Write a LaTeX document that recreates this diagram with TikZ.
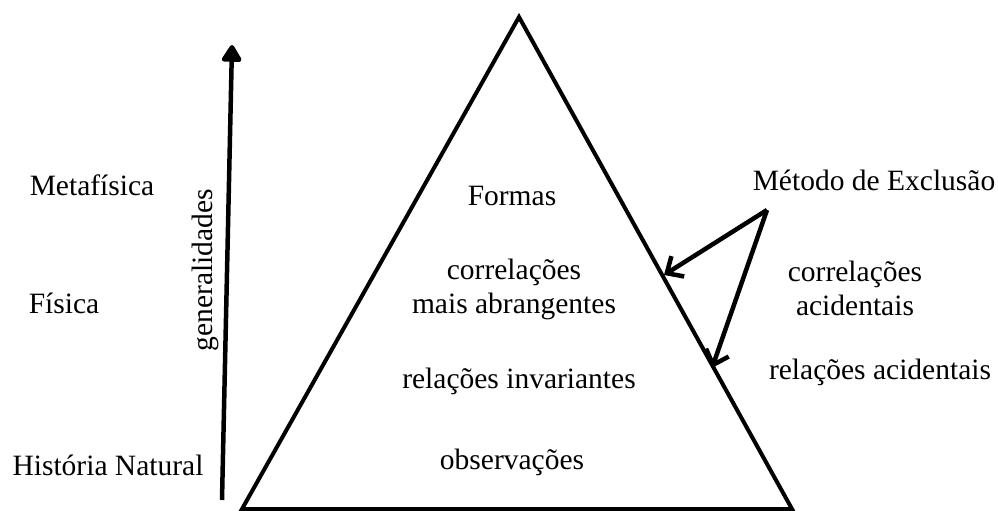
\documentclass[tikz,border=0pt]{standalone}
\usepackage{fontspec}
\setmainfont{Liberation Serif}
\usetikzlibrary{arrows.meta}
\tikzset{
  lbl/.style={font=\fontsize{29.5}{34}\selectfont, inner sep=0pt, align=center},
  side/.style={line width=4pt, line join=miter},
  gen/.style={line width=4.5pt, -{Triangle[length=19pt,width=22pt,round]}},
  excl/.style={line width=4.5pt, -{Straight Barb[length=13pt,width=24pt,line width=4.5pt]}}
}
\begin{document}
\begin{tikzpicture}[x=1pt,y=-1pt]
\useasboundingbox (0,0) rectangle (998,511);
% triangle
\coordinate (apex) at (519,17);
\coordinate (bl) at (242,509);
\coordinate (br) at (792,509);
\draw[side] (bl) -- (apex) -- (br) -- cycle;
% generalidades arrow
\coordinate (gbot) at (222,500);
\coordinate (gtop) at (232,45);
\draw[gen] (gbot) -- (gtop);
\node[lbl, rotate=90] (gen) at (205,270) {generalidades};
% left labels
\node[lbl] (meta) at (92,185) {Metafísica};
\node[lbl] (fis) at (64,303) {Física};
\node[lbl] (hist) at (108,465) {História Natural};
% inner labels
\node[lbl] (formas) at (512,196) {Formas};
\node[lbl] (corr) at (514,289) {correlações\\mais abrangentes};
\node[lbl] (rel) at (519,381) {relações invariantes};
\node[lbl] (obs) at (512,462) {observações};
% right labels
\node[lbl] (metodo) at (874,180) {Método de Exclusão};
\node[lbl] (corracc) at (855,288) {correlações\\acidentais};
\node[lbl] (relacc) at (880,372) {relações acidentais};
% exclusion arrows
\coordinate (ms) at (767,210);
\coordinate (t1) at (664,275);
\coordinate (t2) at (712,368);
\draw[excl] (ms) -- (t1);
\draw[excl] (ms) -- (t2);
\end{tikzpicture}
\end{document}
